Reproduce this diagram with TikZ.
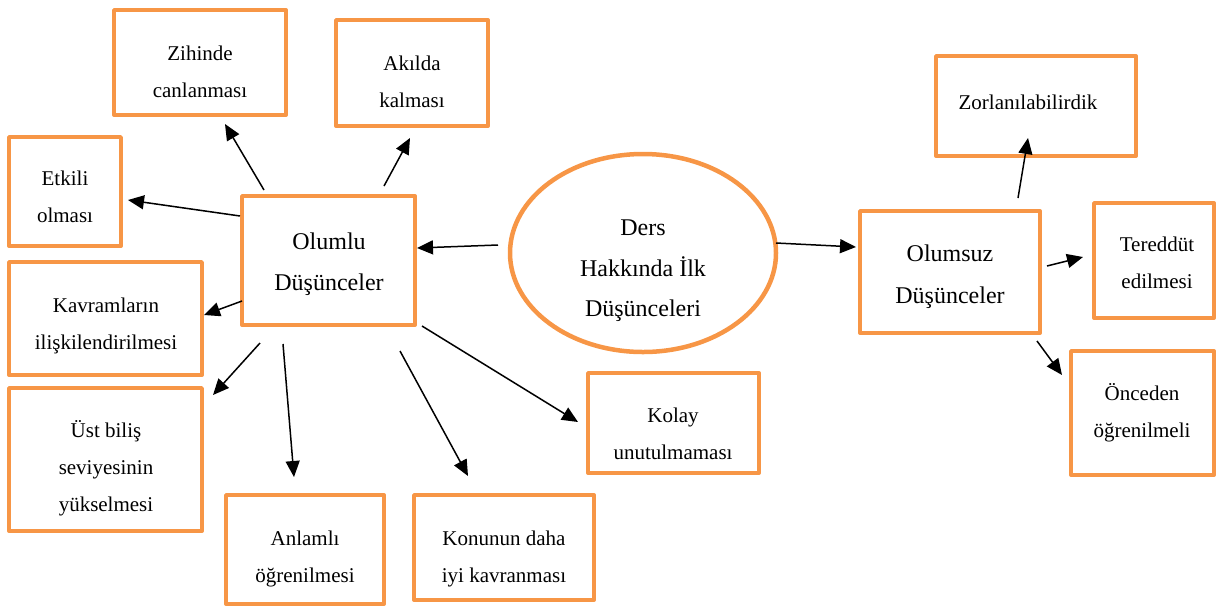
\documentclass[tikz,border=0pt]{standalone}
\usepackage{fontspec}
\setmainfont{Liberation Serif}
\usetikzlibrary{arrows.meta,shapes.geometric}
\definecolor{boxorange}{HTML}{F79646}
\tikzset{
  box/.style={draw=boxorange, line width=4.2pt, line join=round, rectangle, inner sep=0pt},
  ell/.style={draw=boxorange, line width=4.5pt, ellipse, inner sep=0pt},
  small/.style={align=center, inner sep=0pt, font=\fontsize{21}{37}\selectfont},
  big/.style={align=center, inner sep=0pt, font=\fontsize{24}{40.5}\selectfont},
  arr/.style={line width=1.5pt, -{Triangle[length=16pt,width=14pt]}}
}
\begin{document}
\begin{tikzpicture}[x=1pt,y=-1pt]
\useasboundingbox (0,0) rectangle (1217,606);
% boxes
\node[box, minimum width=171.8pt, minimum height=104.8pt] (zih) at (200,62.5) {};
\node[small] (zihT) at (200,71.5) {Zihinde\\canlanması};
\node[box, minimum width=151.8pt, minimum height=105.8pt] (akl) at (412,73) {};
\node[small] (aklT) at (412,81.5) {Akılda\\kalması};
\node[box, minimum width=111.8pt, minimum height=108.8pt] (etk) at (65,191.5) {};
\node[small] (etkT) at (65,197) {Etkili\\olması};
\node[box, minimum width=172.8pt, minimum height=128.8pt] (olumlu) at (328.5,260.5) {};
\node[big] (olumluT) at (329,264) {Olumlu\\Düşünceler};
\node[box, minimum width=192.8pt, minimum height=112.8pt] (kav) at (105.5,318.5) {};
\node[small] (kavT) at (106,326) {Kavramların\\ilişkilendirilmesi};
\node[box, minimum width=192.8pt, minimum height=142.8pt] (ust) at (105.5,459.5) {};
\node[small] (ustT) at (106,468.5) {Üst biliş\\seviyesinin\\yükselmesi};
\node[box, minimum width=157.8pt, minimum height=108.8pt] (anl) at (305,549.5) {};
\node[small] (anlT) at (305,558.5) {Anlamlı\\öğrenilmesi};
\node[box, minimum width=179.8pt, minimum height=104.8pt] (kon) at (504,547.5) {};
\node[small] (konT) at (504,558.5) {Konunun daha\\iyi kavranması};
\node[box, minimum width=170.8pt, minimum height=99.8pt] (kol) at (673.5,423) {};
\node[small] (kolT) at (673,434) {Kolay\\unutulmaması};
\node[ell, minimum width=266pt, minimum height=198pt] (ders) at (643,253) {};
\node[big] (dersT) at (643,271) {Ders\\Hakkında İlk\\Düşünceleri};
\node[box, minimum width=179.8pt, minimum height=121.8pt] (olumsuz) at (950,272) {};
\node[big, font=\fontsize{24}{42}\selectfont] (olumsuzT) at (950,276.5) {Olumsuz\\Düşünceler};
\node[box, minimum width=199.8pt, minimum height=99.8pt] (zor) at (1036,106) {};
\node[small] (zorT) at (1028,102) {Zorlanılabilirdik};
\node[box, minimum width=119.8pt, minimum height=114.8pt] (ter) at (1154,260.5) {};
\node[small] (terT) at (1157,263) {Tereddüt\\edilmesi};
\node[box, minimum width=142.8pt, minimum height=123.8pt] (onc) at (1142.5,413) {};
\node[small] (oncT) at (1142,413) {Önceden\\öğrenilmeli};
% connector end points
\coordinate (a1s) at (498,245); \coordinate (a1e) at (417,248);
\coordinate (a2s) at (776,243); \coordinate (a2e) at (856,247);
\coordinate (a3s) at (264,190); \coordinate (a3e) at (225,124);
\coordinate (a4s) at (384,186); \coordinate (a4e) at (410,138);
\coordinate (a5s) at (240,216); \coordinate (a5e) at (128,200);
\coordinate (a6s) at (242,301); \coordinate (a6e) at (204,315);
\coordinate (a7s) at (260,343); \coordinate (a7e) at (213,395);
\coordinate (a8s) at (283,344); \coordinate (a8e) at (294,477);
\coordinate (a9s) at (400,351); \coordinate (a9e) at (468,476);
\coordinate (a10s) at (422,326); \coordinate (a10e) at (578,422);
\coordinate (a11s) at (1018,198); \coordinate (a11e) at (1028,138);
\coordinate (a12s) at (1047,266); \coordinate (a12e) at (1083,257);
\coordinate (a13s) at (1037,341); \coordinate (a13e) at (1062,375);
% connectors
\draw[arr] (a1s) -- (a1e);
\draw[arr] (a2s) -- (a2e);
\draw[arr] (a3s) -- (a3e);
\draw[arr] (a4s) -- (a4e);
\draw[arr] (a5s) -- (a5e);
\draw[arr] (a6s) -- (a6e);
\draw[arr] (a7s) -- (a7e);
\draw[arr] (a8s) -- (a8e);
\draw[arr] (a9s) -- (a9e);
\draw[arr] (a10s) -- (a10e);
\draw[arr] (a11s) -- (a11e);
\draw[arr] (a12s) -- (a12e);
\draw[arr] (a13s) -- (a13e);
\end{tikzpicture}
\end{document}
